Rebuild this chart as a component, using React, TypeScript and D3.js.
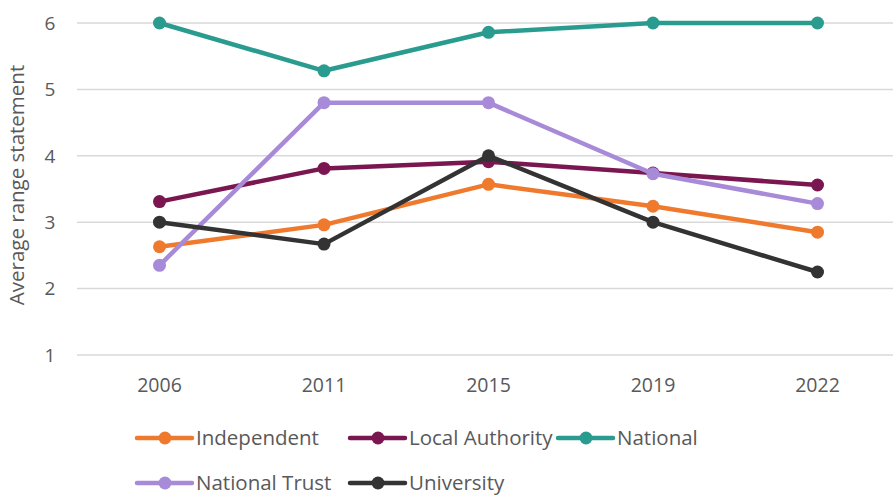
import React from "react";
import * as d3 from "d3";

const years = ["2006", "2011", "2015", "2019", "2022"];
const seriesNames = ["Independent", "Local Authority", "National", "National Trust", "University"];
const independent = [2.63, 2.96, 3.57, 3.24, 2.85];
const localAuthority = [3.31, 3.81, 3.91, 3.74, 3.56];
const national = [6.0, 5.28, 5.86, 6.0, 6.0];
const nationalTrust = [2.35, 4.8, 4.8, 3.73, 3.28];
const university = [3.0, 2.67, 4.0, 3.0, 2.25];
const yTicks = [1, 2, 3, 4, 5, 6];
const colors = ["#EF7A2E", "#7A1650", "#2A9C8F", "#A88BD8", "#333333"];

const W = 893;
const H = 495;

export default function App() {
  const values = [independent, localAuthority, national, nationalTrust, university];
  const x = d3.scalePoint<string>().domain(years).range([159.5, 817.5]);
  const y = d3.scaleLinear().domain([1, 6]).range([355, 23]);
  const line = d3
    .line<number>()
    .x((_, i) => x(years[i]) as number)
    .y((d) => y(d));
  const font = "'Open Sans', sans-serif";
  const legendPos = [
    { x: 137, y: 438 },
    { x: 350, y: 438 },
    { x: 558, y: 438 },
    { x: 137, y: 483 },
    { x: 350, y: 483 },
  ];
  const order = [0, 1, 3, 2, 4];
  return (
    <svg
      width={W}
      height={H}
      style={{ position: "absolute", left: 0, top: 0, background: "#fff" }}
      fontFamily={font}
    >
      {yTicks.map((t) => (
        <g key={t}>
          <line x1={77} x2={W} y1={y(t)} y2={y(t)} stroke="#d9d9d9" strokeWidth={1.5} />
          <text x={50} y={y(t)} dy="0.36em" textAnchor="middle" fontSize={19} fill="#595959">
            {t}
          </text>
        </g>
      ))}
      {years.map((yr) => (
        <text key={yr} x={x(yr)} y={392} textAnchor="middle" fontSize={19.5} fill="#595959">
          {yr}
        </text>
      ))}
      <text
        transform={`translate(24, 185) rotate(-90)`}
        textAnchor="middle"
        fontSize={20.5}
        fill="#595959"
      >
        Average range statement
      </text>
      {order.map((si) => (
        <g key={si}>
          <path
            d={line(values[si]) || ""}
            fill="none"
            stroke={colors[si]}
            strokeWidth={4.5}
            strokeLinejoin="round"
          />
          {values[si].map((v, i) => (
            <circle key={i} cx={x(years[i])} cy={y(v)} r={6.5} fill={colors[si]} />
          ))}
        </g>
      ))}
      {seriesNames.map((name, si) => {
        const p = legendPos[si];
        return (
          <g key={name}>
            <line
              x1={p.x}
              x2={p.x + 55}
              y1={p.y}
              y2={p.y}
              stroke={colors[si]}
              strokeWidth={4.5}
              strokeLinecap="round"
            />
            <circle cx={p.x + 28} cy={p.y} r={6.5} fill={colors[si]} />
            <text x={p.x + 59} y={p.y} dy="0.36em" fontSize={20.5} fill="#595959">
              {name}
            </text>
          </g>
        );
      })}
    </svg>
  );
}
